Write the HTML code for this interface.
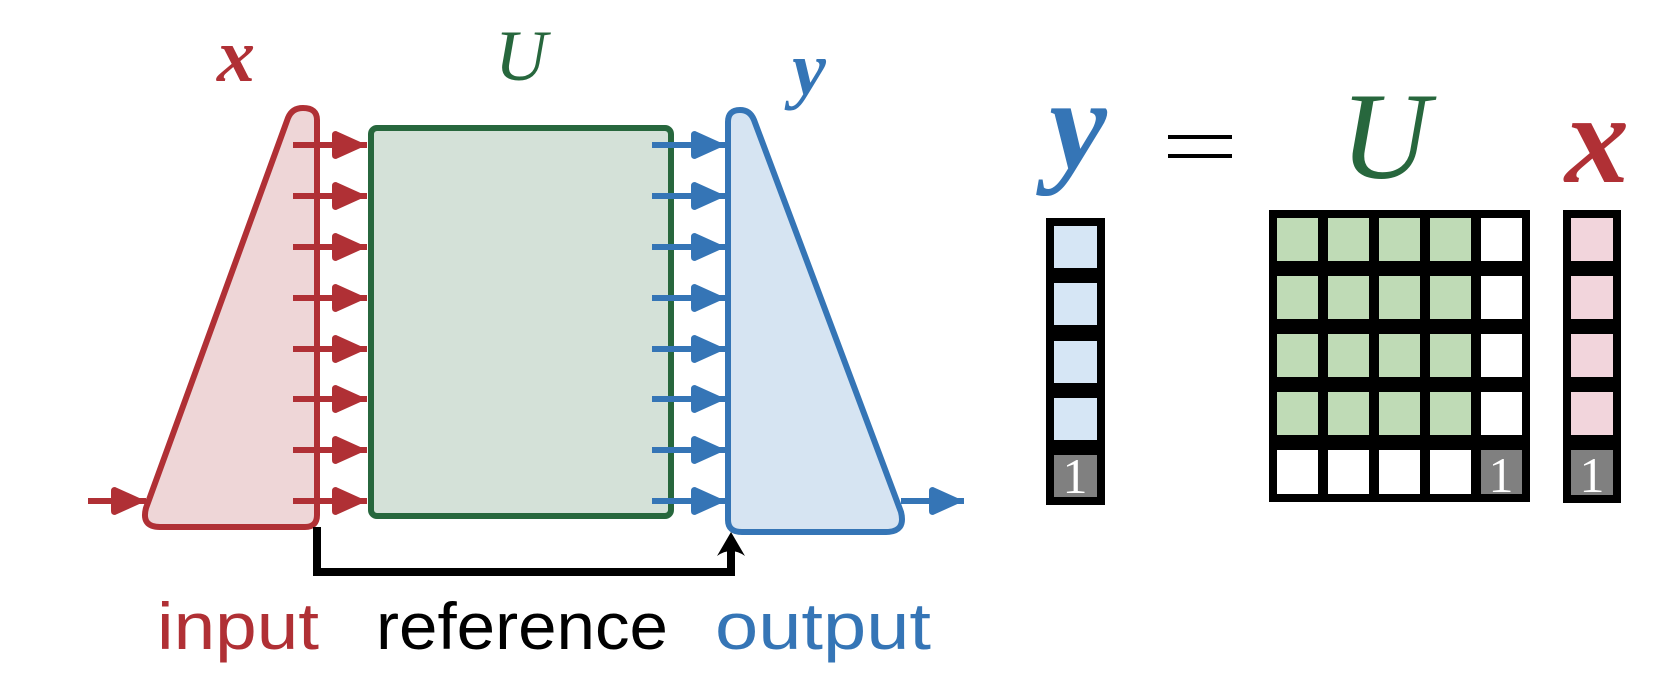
<!DOCTYPE html>
<html><head><meta charset="utf-8"><style>html,body{margin:0;padding:0;background:#fff}svg{display:block}</style></head>
<body>
<svg width="1660" height="674" viewBox="0 0 1660 674" xmlns="http://www.w3.org/2000/svg">
<defs>
<marker id="ar" viewBox="0 0 36 32" refX="35" refY="16" markerWidth="36" markerHeight="32" markerUnits="userSpaceOnUse" orient="auto"><path d="M4 2 L35 16 L4 30 Q0 30 0 26 L0 6 Q0 2 4 2Z" fill="#b03035"/></marker>
<marker id="ab" viewBox="0 0 36 32" refX="35" refY="16" markerWidth="36" markerHeight="32" markerUnits="userSpaceOnUse" orient="auto"><path d="M4 2 L35 16 L4 30 Q0 30 0 26 L0 6 Q0 2 4 2Z" fill="#3575b6"/></marker>
</defs>
<path d="M317 120 Q317 108 303 108 Q292 108 288 118 L146 508 Q141 527 160 527 L305 527 Q317 527 317 515 Z" fill="#eed6d7" stroke="#b03035" stroke-width="6" stroke-linejoin="round"/>
<g stroke="#b03035" stroke-width="6" marker-end="url(#ar)">
<line x1="293" y1="145" x2="367" y2="145"/><line x1="293" y1="196" x2="367" y2="196"/>
<line x1="293" y1="247" x2="367" y2="247"/><line x1="293" y1="298" x2="367" y2="298"/>
<line x1="293" y1="349" x2="367" y2="349"/><line x1="293" y1="399" x2="367" y2="399"/>
<line x1="293" y1="450" x2="367" y2="450"/><line x1="293" y1="501" x2="367" y2="501"/>
<line x1="88" y1="501" x2="146" y2="501"/>
</g>
<rect x="371" y="128" width="300" height="388" rx="6" fill="#d4e1d8" stroke="#27673d" stroke-width="6"/>
<path d="M728 122 Q728 110 740 110 Q750 110 754 120 L901 512 Q906 532 886 532 L742 532 Q728 532 728 520 Z" fill="#d6e4f2" stroke="#3575b6" stroke-width="6" stroke-linejoin="round"/>
<g stroke="#3575b6" stroke-width="6" marker-end="url(#ab)">
<line x1="652" y1="145" x2="726" y2="145"/><line x1="652" y1="196" x2="726" y2="196"/>
<line x1="652" y1="247" x2="726" y2="247"/><line x1="652" y1="298" x2="726" y2="298"/>
<line x1="652" y1="349" x2="726" y2="349"/><line x1="652" y1="399" x2="726" y2="399"/>
<line x1="652" y1="450" x2="726" y2="450"/><line x1="652" y1="501" x2="726" y2="501"/>
<line x1="901" y1="501" x2="964" y2="501"/>
</g>
<path d="M317 527 L317 572 L731 572 L731 548" fill="none" stroke="#000" stroke-width="8"/>
<path d="M731 532 L745 556 Q731 546 717 556 Z" fill="#000"/>
<g font-family="Liberation Serif, serif" font-style="italic" font-weight="bold">
<text x="236" y="81" font-size="76" fill="#b03035" text-anchor="middle">x</text>
<text x="521" y="80" font-size="72" fill="#27673d" text-anchor="middle" font-weight="normal">U</text>
<text x="809" y="94" font-size="76" fill="#3575b6" text-anchor="middle">y</text>
</g>
<g font-family="Liberation Sans, sans-serif" font-size="66">
<text x="157" y="649" fill="#b03035" textLength="162" lengthAdjust="spacingAndGlyphs">input</text>
<text x="376" y="649" fill="#000" textLength="292" lengthAdjust="spacingAndGlyphs">reference</text>
<text x="715" y="649" fill="#3575b6" textLength="216" lengthAdjust="spacingAndGlyphs">output</text>
</g>
<g font-family="Liberation Serif, serif" font-style="italic" font-weight="bold">
<text x="1078" y="168" font-size="130" fill="#3575b6" text-anchor="middle">y</text>
<text x="1385" y="178" font-size="124" fill="#27673d" text-anchor="middle" font-weight="normal">U</text>
<text x="1597" y="182" font-size="128" fill="#b03035" text-anchor="middle">x</text>
</g>
<rect x="1168" y="135" width="64" height="4" fill="#000"/>
<rect x="1168" y="154" width="64" height="4" fill="#000"/>
<rect x="1046" y="218" width="59" height="287" fill="#000"/>
<g fill="#d6e6f5">
<rect x="1054" y="226" width="43" height="42"/><rect x="1054" y="283" width="43" height="42"/>
<rect x="1054" y="341" width="43" height="42"/><rect x="1054" y="398" width="43" height="42"/>
</g>
<rect x="1054" y="455" width="43" height="42" fill="#808080"/>
<g transform="translate(-13,0)">
<rect x="1576" y="210" width="58" height="293" fill="#000"/>
<g fill="#f2d5dc">
<rect x="1584" y="218" width="42" height="43"/><rect x="1584" y="276" width="42" height="43"/>
<rect x="1584" y="334" width="42" height="43"/><rect x="1584" y="392" width="42" height="43"/>
</g>
<rect x="1584" y="450" width="42" height="45" fill="#808080"/>
<text x="1605" y="492" font-family="Liberation Serif, serif" font-size="50" fill="#fff" text-anchor="middle">1</text>
</g>
<g transform="translate(-11,0)">
<rect x="1280" y="210" width="261" height="292" fill="#000"/>
<g fill="#bfdbb6">
<rect x="1288" y="218" width="41" height="43"/><rect x="1339" y="218" width="41" height="43"/><rect x="1390" y="218" width="41" height="43"/><rect x="1441" y="218" width="41" height="43"/>
<rect x="1288" y="276" width="41" height="43"/><rect x="1339" y="276" width="41" height="43"/><rect x="1390" y="276" width="41" height="43"/><rect x="1441" y="276" width="41" height="43"/>
<rect x="1288" y="334" width="41" height="43"/><rect x="1339" y="334" width="41" height="43"/><rect x="1390" y="334" width="41" height="43"/><rect x="1441" y="334" width="41" height="43"/>
<rect x="1288" y="392" width="41" height="43"/><rect x="1339" y="392" width="41" height="43"/><rect x="1390" y="392" width="41" height="43"/><rect x="1441" y="392" width="41" height="43"/>
</g>
<g fill="#fff">
<rect x="1492" y="218" width="41" height="43"/><rect x="1492" y="276" width="41" height="43"/><rect x="1492" y="334" width="41" height="43"/><rect x="1492" y="392" width="41" height="43"/>
<rect x="1288" y="450" width="41" height="44"/><rect x="1339" y="450" width="41" height="44"/><rect x="1390" y="450" width="41" height="44"/><rect x="1441" y="450" width="41" height="44"/>
</g>
<rect x="1492" y="450" width="41" height="44" fill="#808080"/>
<text x="1512" y="492" font-family="Liberation Serif, serif" font-size="50" fill="#fff" text-anchor="middle">1</text>
</g>
<text x="1075" y="493" font-family="Liberation Serif, serif" font-size="50" fill="#fff" text-anchor="middle">1</text>
</svg>
</body></html>
